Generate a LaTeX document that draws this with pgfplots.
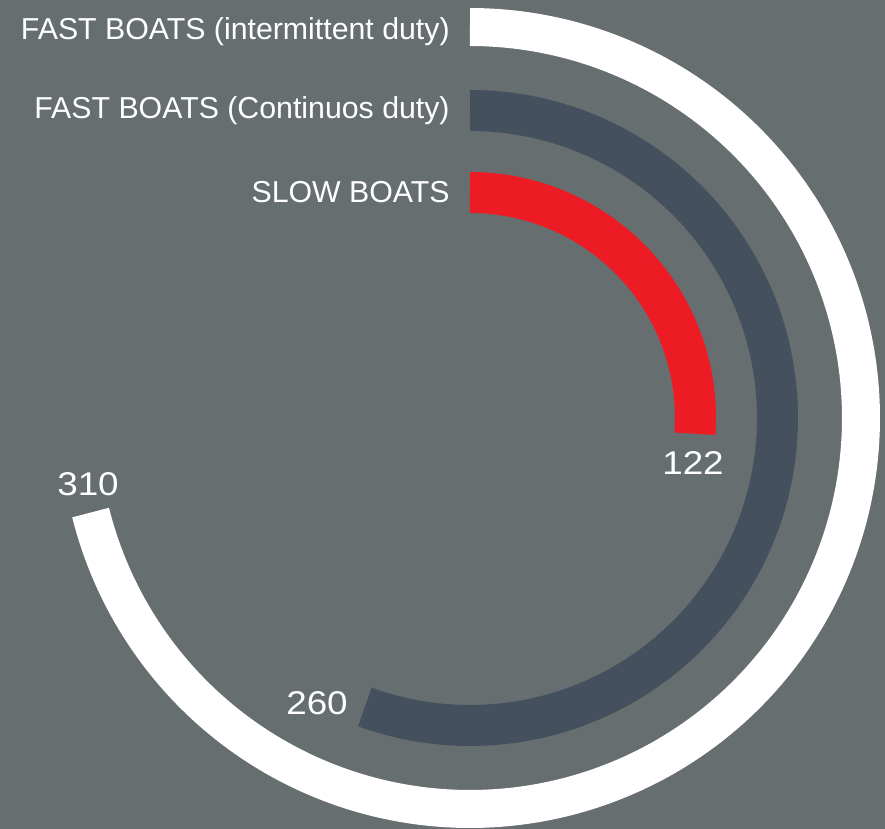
\documentclass[border=0pt]{standalone}
\usepackage{pgfplots}
\usepackage{pgfplotstable}
\pgfplotsset{compat=1.18}
\usepackage{fontspec}
\setmainfont{Liberation Sans}
\newfontfamily\numfont[FakeStretch=1.12]{Liberation Sans}
\definecolor{bg}{RGB}{103,110,111}
\definecolor{darkarc}{RGB}{69,80,95}
\definecolor{redarc}{RGB}{237,28,36}

% value = number shown, radius/thick in px, sweep = clockwise angle from top (deg)
\pgfplotstableread{
name value radius thick sweep
slow 122 225.5 41 94
cont 260 307.5 41 200
inter 310 391 38 256
}\datatable
\pgfplotstablegetelem{0}{sweep}\of\datatable \edef\sweepA{\pgfplotsretval}
\pgfplotstablegetelem{1}{sweep}\of\datatable \edef\sweepB{\pgfplotsretval}
\pgfplotstablegetelem{2}{sweep}\of\datatable \edef\sweepC{\pgfplotsretval}
\pgfplotstablegetelem{0}{radius}\of\datatable \edef\radA{\pgfplotsretval}
\pgfplotstablegetelem{1}{radius}\of\datatable \edef\radB{\pgfplotsretval}
\pgfplotstablegetelem{2}{radius}\of\datatable \edef\radC{\pgfplotsretval}
\pgfplotstablegetelem{0}{value}\of\datatable \edef\valA{\pgfplotsretval}
\pgfplotstablegetelem{1}{value}\of\datatable \edef\valB{\pgfplotsretval}
\pgfplotstablegetelem{2}{value}\of\datatable \edef\valC{\pgfplotsretval}

\begin{document}
\begin{tikzpicture}
\begin{axis}[
  x=0.5bp, y=0.5bp,
  xmin=-470, xmax=415, ymin=-411, ymax=418,
  hide axis, clip=true,
]
\fill[bg] (rel axis cs:0,0) rectangle (rel axis cs:1,1);
\addplot[draw=white, line width=19bp, no marks, data cs=polar,
  domain={90-\sweepC}:90, samples=240] ({x},{\radC});
\addplot[draw=darkarc, line width=20.5bp, no marks, data cs=polar,
  domain={90-\sweepB}:90, samples=200] ({x},{\radB});
\addplot[draw=redarc, line width=20.5bp, no marks, data cs=polar,
  domain={90-\sweepA}:90, samples=120] ({x},{\radA});

\node[anchor=base east, inner sep=0pt, text=white, font=\fontsize{15.2}{18}\selectfont] at (axis cs:-20,378) {FAST BOATS (intermittent duty)};
\node[anchor=base east, inner sep=0pt, text=white, font=\fontsize{15.2}{18}\selectfont] at (axis cs:-20,299) {FAST BOATS (Continuos duty)};
\node[anchor=base east, inner sep=0pt, text=white, font=\fontsize{15.2}{18}\selectfont] at (axis cs:-20,215) {SLOW BOATS};

\node[anchor=base, inner sep=0pt, text=white, font=\numfont\fontsize{16.5}{19}\selectfont] at (axis cs:223,-57) {\valA};
\node[anchor=base, inner sep=0pt, text=white, font=\numfont\fontsize{16.5}{19}\selectfont] at (axis cs:-153,-297) {\valB};
\node[anchor=base, inner sep=0pt, text=white, font=\numfont\fontsize{16.5}{19}\selectfont] at (axis cs:-382,-78) {\valC};
\end{axis}
\end{tikzpicture}
\end{document}
